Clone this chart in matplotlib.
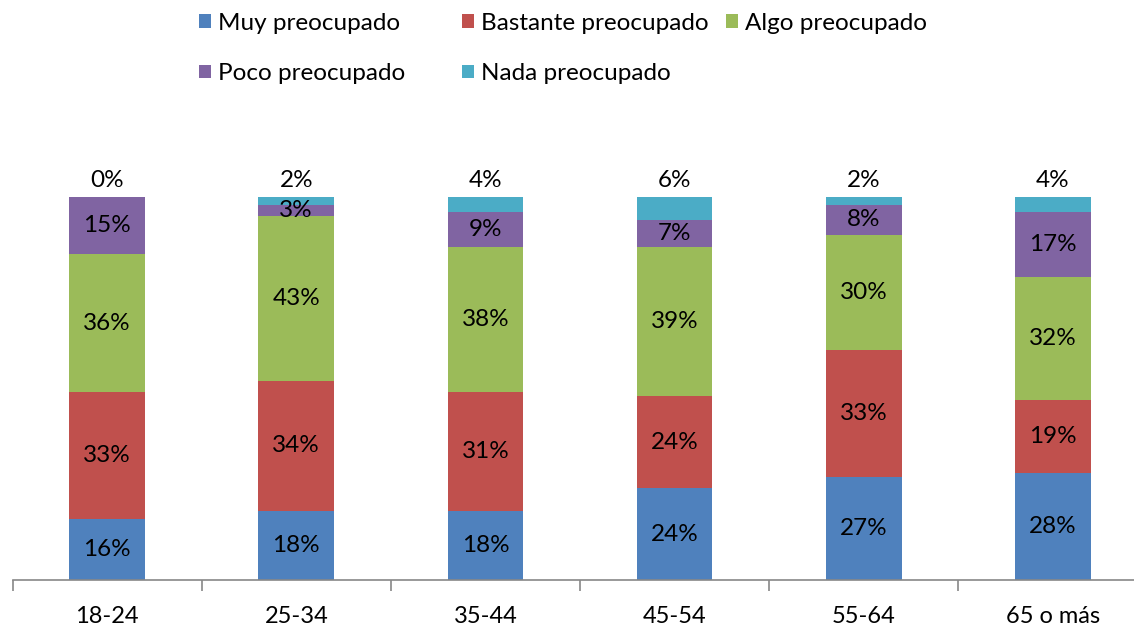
import matplotlib
matplotlib.use("Agg")
import matplotlib.pyplot as plt
import numpy as np

categories = ["18-24", "25-34", "35-44", "45-54", "55-64", "65 o más"]
series_names = ["Muy preocupado", "Bastante preocupado", "Algo preocupado",
                "Poco preocupado", "Nada preocupado"]
muy = [16, 18, 18, 24, 27, 28]
bastante = [33, 34, 31, 24, 33, 19]
algo = [36, 43, 38, 39, 30, 32]
poco = [15, 3, 9, 7, 8, 17]
nada = [0, 2, 4, 6, 2, 4]
colors = ["#4F81BD", "#C0504D", "#9BBB59", "#8064A2", "#4BACC6"]

plt.rcParams['font.family'] = ['Lato', 'DejaVu Sans']

fig = plt.figure(figsize=(11.34, 6.27), dpi=100)
ax = fig.add_axes([12.5 / 1134, 47 / 627, 1135 / 1134, 383 / 627])

x = np.arange(len(categories))
data = [muy, bastante, algo, poco, nada]
bottom = np.zeros(len(categories))
handles = []
for i, (vals, name, c) in enumerate(zip(data, series_names, colors)):
    vals = np.array(vals, dtype=float)
    h = ax.bar(x, vals, width=0.4, bottom=bottom, color=c, label=name)
    handles.append(h)
    for xi, b, v in zip(x, bottom, vals):
        if i == 4:
            ax.text(xi, b + v + 1.6, f"{int(v)}%", ha="center", va="bottom",
                    fontsize=17.5, color="black")
        else:
            ax.text(xi, b + v / 2, f"{int(v)}%", ha="center", va="center",
                    fontsize=17.5, color="black")
    bottom += vals

ax.set_xlim(-0.5, len(categories) - 0.5)
ax.set_ylim(0, 100)
ax.set_yticks([])
for s in ["top", "right", "left"]:
    ax.spines[s].set_visible(False)
ax.spines["bottom"].set_color("#888888")
ax.spines["bottom"].set_linewidth(1.2)
ax.set_xticks(x)
ax.set_xticklabels(categories, fontsize=17)
ax.tick_params(axis="x", which="major", length=0, pad=19)
ax.set_xticks(np.arange(-0.5, len(categories), 1.0), minor=True)
ax.tick_params(axis="x", which="minor", length=8, width=1.2, color="#888888",
               direction="out")

# legend laid out in equal-width columns (row-major order)
col_x = [199, 462, 726]
columns = [[0, 3], [1, 4], [2]]
for cx, idxs in zip(col_x, columns):
    fig.legend([handles[i] for i in idxs], [series_names[i] for i in idxs],
               ncol=1, loc="upper left", bbox_to_anchor=(cx / 1134, 1.0 - 13 / 627),
               frameon=False, fontsize=17.5, handlelength=0.5, handleheight=0.5,
               handletextpad=0.3, labelspacing=1.2, borderpad=0,
               borderaxespad=0)

fig.savefig("out.png", dpi=100)
